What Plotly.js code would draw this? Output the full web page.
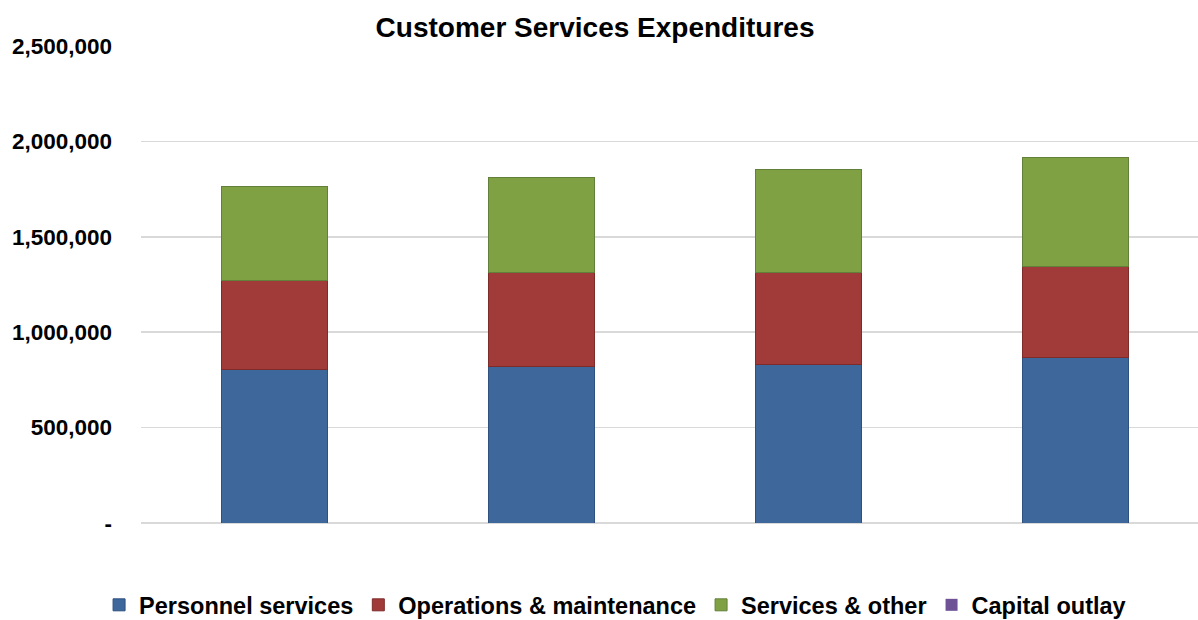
<!DOCTYPE html>
<html>
<head>
<meta charset="utf-8">
<script src="https://cdn.plot.ly/plotly-3.0.1.min.js"></script>
<style>html,body{margin:0;padding:0;background:#fff;}#chart{width:1198px;height:620px;}</style>
</head>
<body>
<div id="chart"></div>
<script>
// Data
const categories = ["Year 1", "Year 2", "Year 3", "Year 4"];
const personnelServices = [805000, 821000, 832000, 865000];
const operationsMaintenance = [467000, 491000, 483500, 477000];
const servicesOther = [494000, 498000, 536500, 576000];
const capitalOutlay = [0, 0, 0, 0];
const seriesNames = ["Personnel services", "Operations & maintenance", "Services & other", "Capital outlay"];
const yTickValues = [0, 500000, 1000000, 1500000, 2000000, 2500000];
const yTickLabels = ["-", "500,000", "1,000,000", "1,500,000", "2,000,000", "2,500,000"];

const colors = ["#3E679C", "#A03B39", "#80A044", "#6E5295"];
const lineColors = ["#2E5180", "#7E2C2A", "#62803A", "#553F75"];
const seriesValues = [personnelServices, operationsMaintenance, servicesOther, capitalOutlay];

const traces = seriesValues.map((vals, i) => ({
  type: "bar",
  name: seriesNames[i],
  x: categories,
  y: vals,
  width: 0.4,
  marker: {color: colors[i], line: {color: lineColors[i], width: i === 3 ? 0 : 1}},
  hoverinfo: "name+y"
}));

const layout = {
  width: 1198,
  height: 620,
  margin: {l: 141, r: 0, t: 46, b: 97, autoexpand: false},
  paper_bgcolor: "#ffffff",
  plot_bgcolor: "#ffffff",
  barmode: "stack",
  font: {family: "Liberation Sans, Arial, sans-serif", color: "#000000"},
  title: {
    text: "<b>Customer Services Expenditures</b>",
    font: {size: 28, family: "Liberation Sans, Arial, sans-serif", color: "#000000"},
    x: 0.4967, xanchor: "center", xref: "container",
    y: 0.956, yanchor: "middle", yref: "container"
  },
  xaxis: {
    type: "category",
    range: [-0.5, 3.459],
    showticklabels: false,
    showgrid: false,
    zeroline: false,
    showline: false,
    ticks: ""
  },
  yaxis: {
    range: [0, 2500000],
    tickvals: yTickValues,
    ticktext: yTickLabels,
    tickfont: {size: 22.5, family: "Liberation Sans, Arial, sans-serif", color: "#000000", weight: "bold"},
    showgrid: true,
    gridcolor: "#D9D9D9",
    gridwidth: 1.5,
    zeroline: true,
    zerolinecolor: "#D9D9D9",
    zerolinewidth: 1.5,
    showline: false,
    ticks: "",
    ticklabelstandoff: 28
  },
  legend: {
    orientation: "h",
    x: 0.4485, xanchor: "center",
    y: -0.172, yanchor: "middle",
    font: {size: 23.5, family: "Liberation Sans, Arial, sans-serif", color: "#000000", weight: "bold"},
    itemwidth: 30,
    traceorder: "normal"
  },
  showlegend: true
};

Plotly.newPlot("chart", traces, layout, {displayModeBar: false, staticPlot: true});
</script>
</body>
</html>
